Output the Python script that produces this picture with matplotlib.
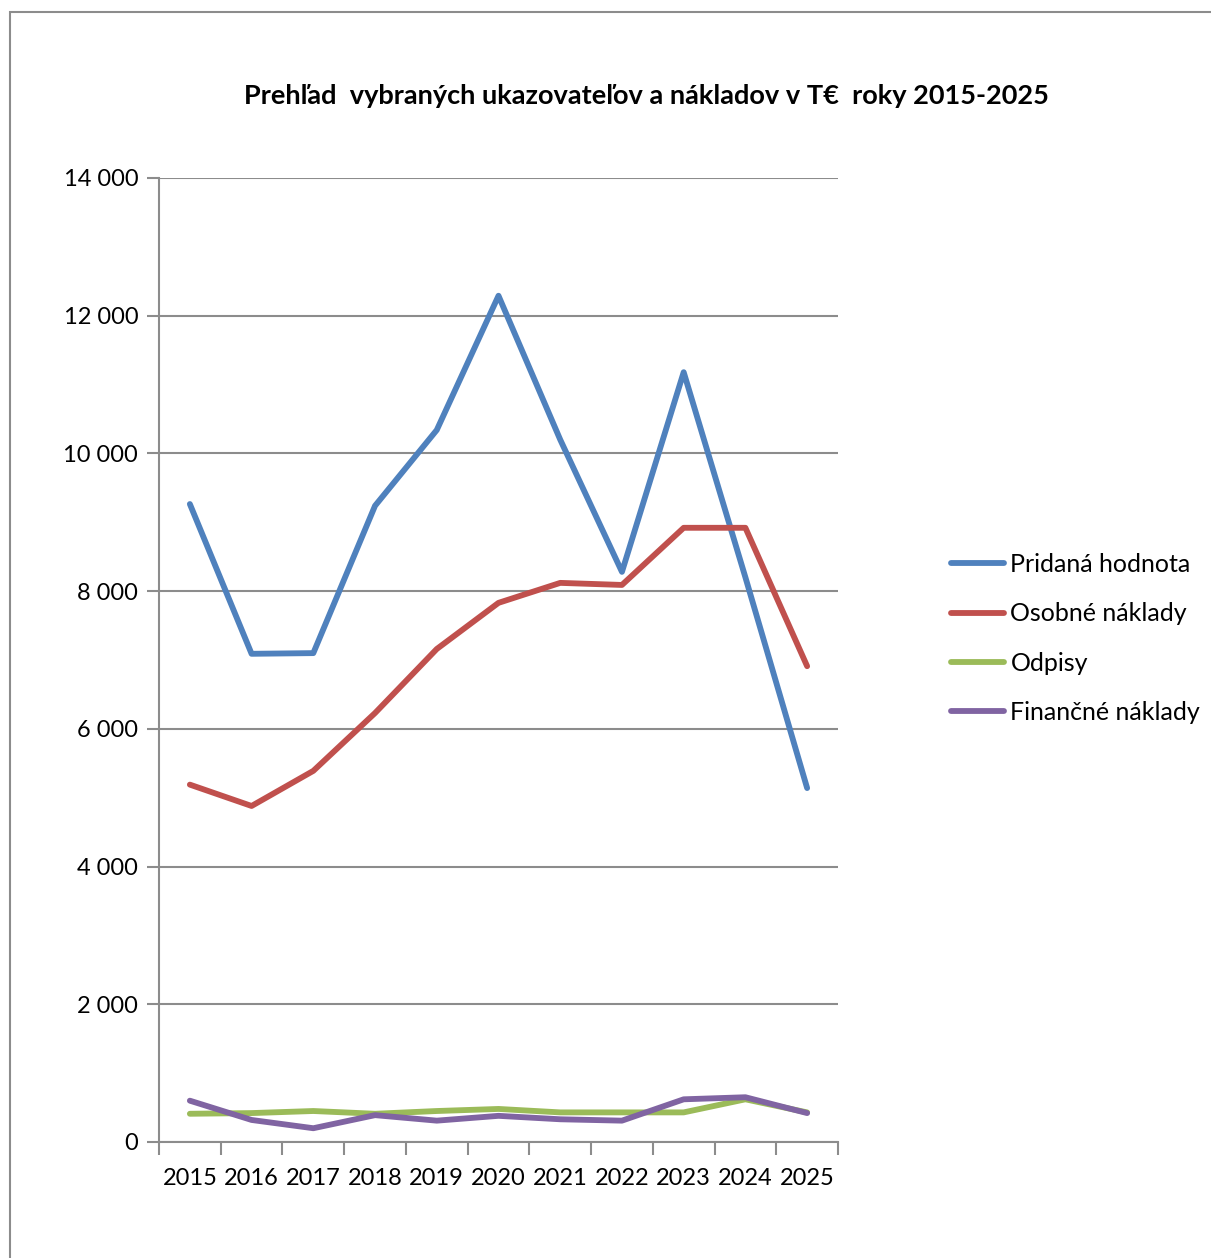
import numpy as np
import matplotlib
matplotlib.use("Agg")
from matplotlib import pyplot as plt
from matplotlib.patches import Rectangle

plt.rcParams['font.family'] = ['Lato', 'DejaVu Sans']

years = ['2015', '2016', '2017', '2018', '2019', '2020', '2021', '2022', '2023', '2024', '2025']

pridana_hodnota = [9265, 7090, 7100, 9240, 10340, 12290, 10200, 8280, 11180, 8200, 5140]
osobne_naklady = [5190, 4880, 5390, 6230, 7160, 7830, 8120, 8090, 8920, 8920, 6910]
odpisy = [410, 420, 450, 410, 450, 480, 430, 430, 430, 620, 430]
financne_naklady = [600, 320, 200, 390, 310, 380, 330, 310, 620, 650, 420]

series_names = ['Pridaná hodnota', 'Osobné náklady', 'Odpisy', 'Finančné náklady']
series_colors = ['#4F81BD', '#C0504D', '#9BBB59', '#8064A2']

fig = plt.figure(figsize=(12.11, 12.58), dpi=100)

# chart area frame
fig.patches.append(Rectangle((10 / 1211, -0.05), 1.1, 1 - 12 / 1258 + 0.05,
                             transform=fig.transFigure, fill=False,
                             edgecolor='#8c8c8c', linewidth=1.5))

ax = fig.add_axes([159 / 1211, 1 - 1142 / 1258, 679 / 1211, 964 / 1258])

x = np.arange(len(years))
all_series = [pridana_hodnota, osobne_naklady, odpisy, financne_naklady]
for vals, name, col in zip(all_series, series_names, series_colors):
    ax.plot(x, vals, color=col, linewidth=4.2, label=name,
            solid_capstyle='round', solid_joinstyle='round')

ax.set_xlim(-0.5, len(years) - 0.5)
ax.set_ylim(0, 14000)

yticks = np.arange(0, 14001, 2000)
ax.set_yticks(yticks)
ax.set_yticklabels([f'{v:,}'.replace(',', ' ') for v in yticks], fontsize=17)
ax.yaxis.grid(True, color='#8c8c8c', linewidth=1.5)
ax.set_axisbelow(True)

# category labels in the middle, ticks on the boundaries
ax.set_xticks(x)
ax.set_xticklabels(years, fontsize=17)
ax.tick_params(axis='x', length=0, pad=19)
ax.set_xticks(np.arange(-0.5, len(years)), minor=True)
ax.tick_params(axis='x', which='minor', length=9, width=1.5, color='#8c8c8c')
ax.tick_params(axis='y', length=9, width=1.5, color='#8c8c8c', pad=6)

for side in ['top', 'right']:
    ax.spines[side].set_visible(False)
for side in ['left', 'bottom']:
    ax.spines[side].set_color('#8c8c8c')
    ax.spines[side].set_linewidth(1.5)

fig.text(646 / 1211, 1 - 96 / 1258, 'Prehľad  vybraných ukazovateľov a nákladov v T€  roky 2015-2025',
         ha='center', va='center', fontsize=19.5, fontweight='bold')

ax.legend(loc='center left', bbox_to_anchor=(951 / 1211, 1 - 638.5 / 1258),
          bbox_transform=fig.transFigure, frameon=False, fontsize=18,
          borderpad=0, borderaxespad=0,
          handlelength=2.1, handletextpad=0.28, labelspacing=1.05)

fig.savefig('out.png', dpi=100)
